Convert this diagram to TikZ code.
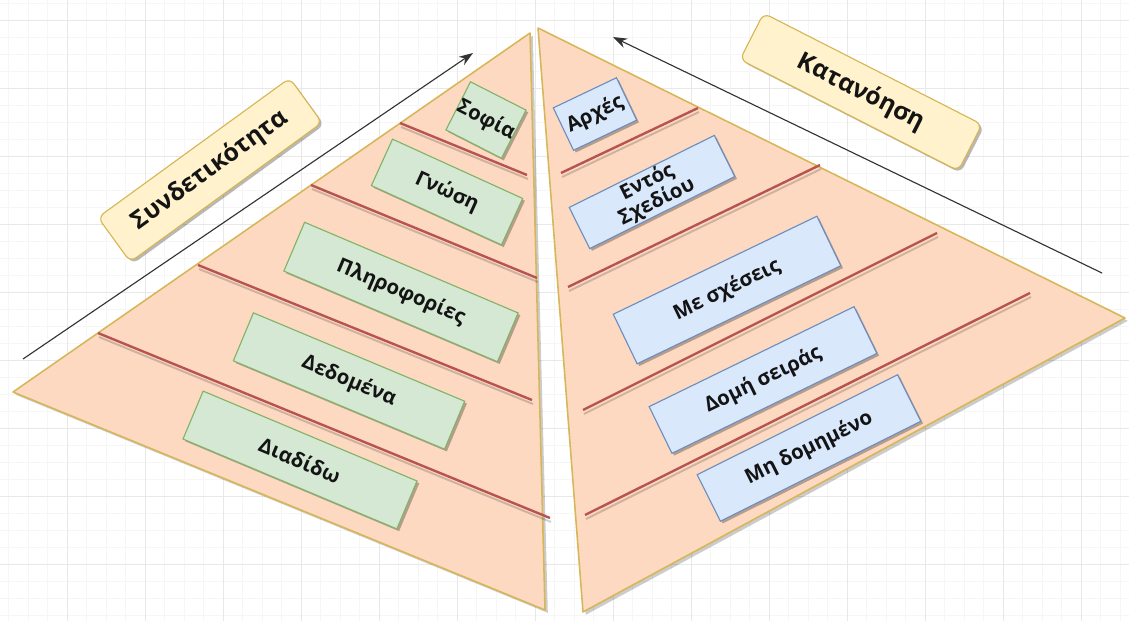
\documentclass[tikz,border=0pt]{standalone}
\usepackage{fontspec}
\setmainfont{Open Sans}
\usetikzlibrary{arrows.meta,shadows}

\definecolor{peach}{HTML}{FDD9C2}
\definecolor{gold}{HTML}{D6B656}
\definecolor{greenfill}{HTML}{D5E8D4}
\definecolor{greenline}{HTML}{82B366}
\definecolor{bluefill}{HTML}{DAE8FC}
\definecolor{blueline}{HTML}{6C8EBF}
\definecolor{notefill}{HTML}{FFF2CC}
\definecolor{redline}{HTML}{B85450}
\definecolor{gridmajor}{HTML}{E8E8E8}
\definecolor{gridminor}{HTML}{F6F6F6}

\def\px{0.025cm}

\tikzset{
    boxshadow/.style={drop shadow={shadow xshift=1.6pt, shadow yshift=-1.6pt, fill=black, opacity=0.28}},
    tri/.style={fill=peach, draw=gold, line width=1.1pt, line join=round,
        drop shadow={shadow xshift=2pt, shadow yshift=-2pt, fill=black, opacity=0.2}},
    sep/.style={draw=redline, line width=1.7pt},
    sepshade/.style={draw=black, opacity=0.18, line width=1.4pt},
    level/.style={draw, line width=0.8pt, boxshadow, inner sep=0pt,
        font=\bfseries\fontsize{14.5}{16}\selectfont, text=black!92, align=center},
    glevel/.style={level, fill=greenfill, draw=greenline},
    blevel/.style={level, fill=bluefill, draw=blueline},
    tag/.style={draw=gold, fill=notefill, line width=0.8pt, rounded corners=5pt, boxshadow,
        font=\bfseries\fontsize{17.5}{19}\selectfont, text=black!92},
    trend/.style={draw=black!80, line width=0.8pt, -{Stealth[length=10pt, width=7pt]}}
}

\begin{document}
\begin{tikzpicture}[x=\px, y=-\px]

    % --- Background grid ---
    \useasboundingbox (0,0) rectangle (1129,621);
    \fill[white] (0,0) rectangle (1129,621);
    \foreach \gx in {8.5,28,...,1129} \draw[gridminor, line width=0.4pt] (\gx,0) -- (\gx,621);
    \foreach \gy in {3,20,...,621} \draw[gridminor, line width=0.4pt] (0,\gy) -- (1129,\gy);
    \foreach \gx in {67,145,...,1129} \draw[gridmajor, line width=0.6pt] (\gx,0) -- (\gx,621);
    \foreach \gy in {20,88,...,621} \draw[gridmajor, line width=0.6pt] (0,\gy) -- (1129,\gy);

    % --- Define Coordinates ---
    % Left pyramid
    \coordinate (LT) at (530,33);
    \coordinate (LL) at (13,392);
    \coordinate (LB) at (545,610);
    % Right pyramid
    \coordinate (RT) at (538,28);
    \coordinate (RR) at (1125,318);
    \coordinate (RB) at (583,612);

    % --- Draw Pyramids ---
    \path[tri] (LT) -- (LL) -- (LB) -- cycle;
    \path[tri] (RT) -- (RR) -- (RB) -- cycle;

    % --- Level separators ---
    \coordinate (l1a) at (400,123);  \coordinate (l1b) at (527,175);
    \coordinate (l2a) at (311,185);  \coordinate (l2b) at (537,278);
    \coordinate (l3a) at (198,265);  \coordinate (l3b) at (532,400);
    \coordinate (l4a) at (98,333);   \coordinate (l4b) at (550,518);
    \coordinate (r1a) at (561,173);  \coordinate (r1b) at (698,108);
    \coordinate (r2a) at (568,287);  \coordinate (r2b) at (820,165);
    \coordinate (r3a) at (583,410);  \coordinate (r3b) at (937,233);
    \coordinate (r4a) at (585,515);  \coordinate (r4b) at (1030,293);
    \foreach \a/\b in {l1a/l1b, l2a/l2b, l3a/l3b, l4a/l4b, r1a/r1b, r2a/r2b, r3a/r3b, r4a/r4b}{
        \draw[sepshade] ([shift={(1,4)}]\a) -- ([shift={(1,4)}]\b);
        \draw[sep] (\a) -- (\b);
    }

    % --- Left levels ---
    \node[glevel, rotate=-27, minimum width=58*\px, minimum height=54*\px] (sofia) at (486,120) {Σοφία};
    \node[glevel, rotate=-24.5, minimum width=143*\px, minimum height=51*\px] (gnosi) at (447,192) {Γνώση};
    \node[glevel, rotate=-23, minimum width=232*\px, minimum height=53*\px] (plirof) at (401,292) {Πληροφορίες};
    \node[glevel, rotate=-22.7, minimum width=229*\px, minimum height=52*\px] (dedom) at (349,381) {Δεδομένα};
    \node[glevel, rotate=-22.8, minimum width=232*\px, minimum height=52*\px] (diad) at (300,460) {Διαδίδω};

    % --- Right levels ---
    \node[blevel, rotate=25.5, minimum width=70*\px, minimum height=47*\px] (arxes) at (595,114) {Αρχές};
    \node[blevel, rotate=26.4, minimum width=162*\px, minimum height=46*\px,
        font=\bfseries\fontsize{14.5}{15.5}\selectfont] (entos) at (652,192) {Εντός\\Σχεδίου};
    \node[blevel, rotate=25.7, minimum width=226*\px, minimum height=55*\px] (sxeseis) at (727,290) {Με σχέσεις};
    \node[blevel, rotate=26, minimum width=228*\px, minimum height=52*\px] (domi) at (763,380) {Δομή σειράς};
    \node[blevel, rotate=26.5, minimum width=224*\px, minimum height=52*\px] (midom) at (809,448) {Μη δομημένο};

    % --- Trend arrows and tags ---
    \coordinate (s0) at (23,359);
    \coordinate (s1) at (473,53);
    \draw[trend] (s0) -- (s1);
    \node[tag, rotate=36, minimum width=237*\px, minimum height=55*\px] (syndet) at (210,170) {Συνδετικότητα};

    \coordinate (k0) at (1102,273);
    \coordinate (k1) at (613,37);
    \draw[trend] (k0) -- (k1);
    \node[tag, rotate=-27, minimum width=245*\px, minimum height=52*\px] (katan) at (861,92) {Κατανόηση};

\end{tikzpicture}
\end{document}
